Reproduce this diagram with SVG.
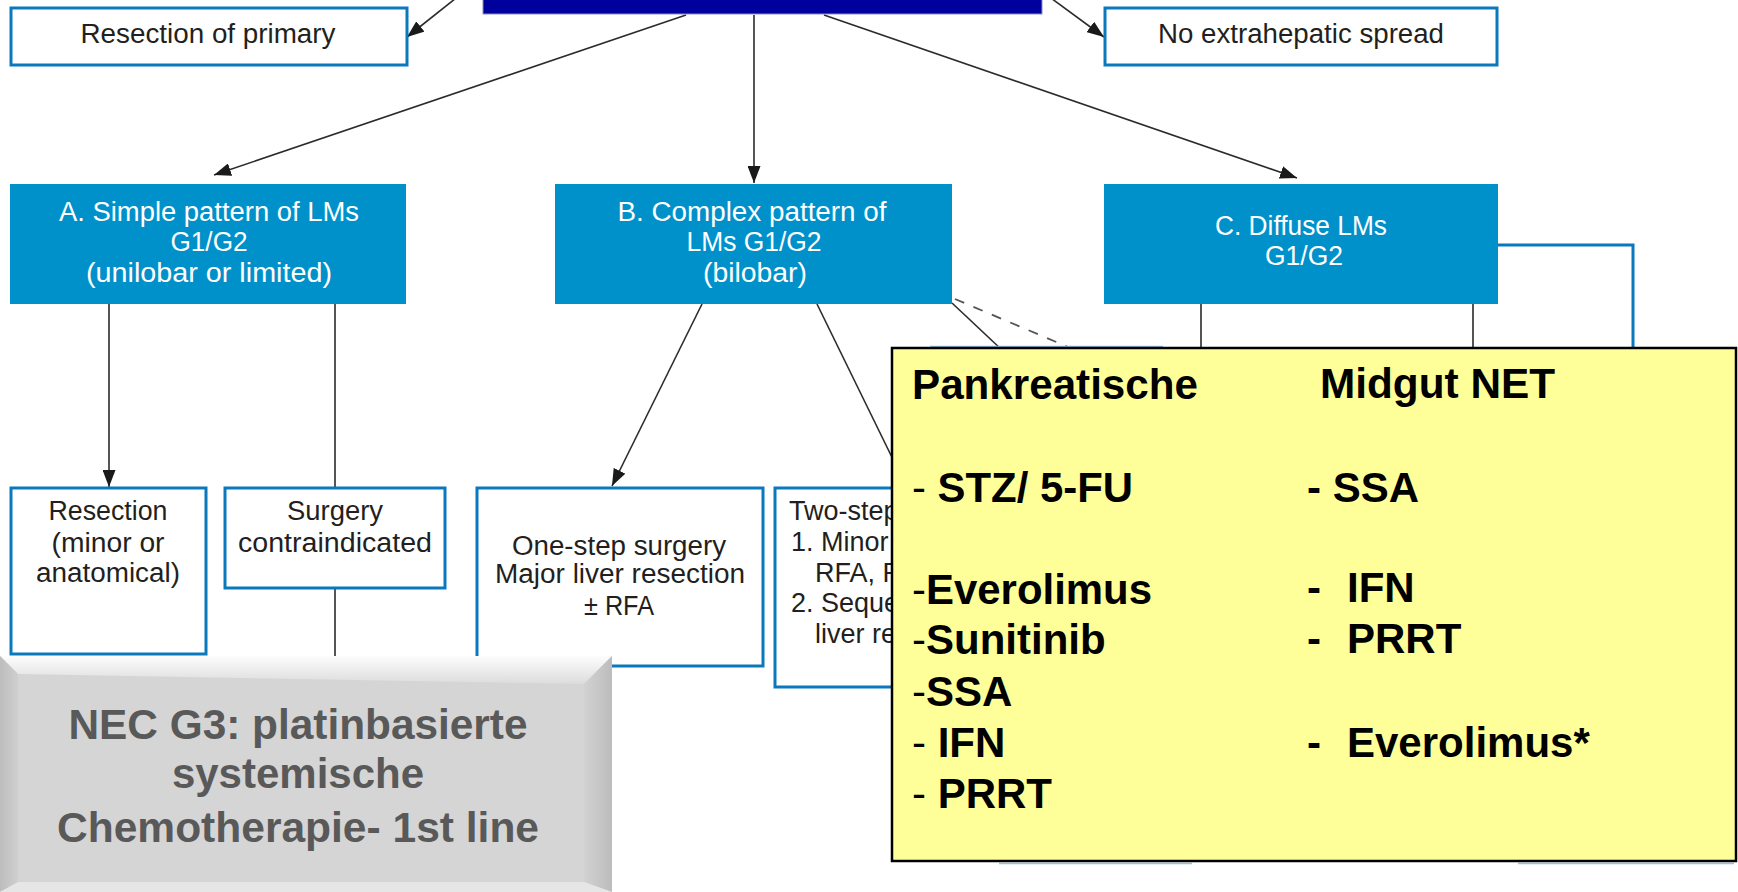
<svg xmlns="http://www.w3.org/2000/svg" width="1738" height="892" viewBox="0 0 1738 892">
<style>
.wbox{fill:#ffffff;stroke:#0a78bd;stroke-width:3}
.bbox{fill:#0091ca}
.t{font-family:"Liberation Sans",Arial,sans-serif;font-size:27px;fill:#231f20;text-anchor:middle}
.tl{font-family:"Liberation Sans",Arial,sans-serif;font-size:27px;fill:#231f20}
.tw{font-family:"Liberation Sans",Arial,sans-serif;font-size:27px;fill:#ffffff;text-anchor:middle}
.conn{stroke:#2b2b2b;stroke-width:1.6;fill:none}
.dash{stroke:#555;stroke-width:1.8;fill:none;stroke-dasharray:10 10}
.blue{stroke:#0a78bd;stroke-width:3;fill:none}
.y{font-family:"Liberation Sans",Arial,sans-serif;font-size:42px;font-weight:bold;fill:#000}
.n{font-weight:normal}
.g{font-family:"Liberation Sans",Arial,sans-serif;font-size:42px;font-weight:bold;fill:#595959;text-anchor:middle}
</style>
<defs>
<marker id="arr" markerUnits="userSpaceOnUse" markerWidth="17" markerHeight="13" viewBox="0 0 17 13" refX="17" refY="6.5" orient="auto">
<path d="M0,0 L17,6.5 L0,13 z" fill="#1a1a1a"/>
</marker>
<linearGradient id="gtop" x1="0" y1="0" x2="0" y2="1">
<stop offset="0" stop-color="#fdfdfd"/><stop offset="1" stop-color="#dcdcdc"/>
</linearGradient>
<linearGradient id="gleft" x1="0" y1="0" x2="1" y2="0">
<stop offset="0" stop-color="#bdbdbd"/><stop offset="1" stop-color="#cfcfcf"/>
</linearGradient>
<linearGradient id="gright" x1="0" y1="0" x2="1" y2="0">
<stop offset="0" stop-color="#d2d2d2"/><stop offset="1" stop-color="#bcbcbc"/>
</linearGradient>
</defs>
<rect width="1738" height="892" fill="#ffffff"/>

<g id="connectors">
<path class="conn" d="M475,-17 L407,37" marker-end="url(#arr)"/>
<path class="conn" d="M1040,-10 L1104,37" marker-end="url(#arr)"/>
<path class="conn" d="M686,15 L214,175" marker-end="url(#arr)"/>
<path class="conn" d="M754,15 L754,183" marker-end="url(#arr)"/>
<path class="conn" d="M824,15 L1297,178" marker-end="url(#arr)"/>
<path class="conn" d="M109,304 L109,487" marker-end="url(#arr)"/>
<path class="conn" d="M335,304 L335,488"/>
<path class="conn" d="M335,588 L335,660"/>
<path class="conn" d="M702,304 L612,486" marker-end="url(#arr)"/>
<path class="conn" d="M817,304 L906,486" marker-end="url(#arr)"/>
<path class="conn" d="M952,303 L1002,350"/>
<path class="dash" d="M955,299 L1068,347"/>
<path class="conn" d="M1201,304 L1201,350"/>
<path class="conn" d="M1473,304 L1473,350"/>
<path class="blue" d="M1498,245 L1633,245 L1633,350"/>
</g>

<g id="top">
<rect x="483" y="-12" width="559" height="26" fill="#00009c" stroke="#8c8cc8" stroke-width="1"/>
</g>

<g id="resection-primary">
<rect class="wbox" x="11" y="8" width="396" height="57"/>
<text class="t" x="208" y="43" textLength="255" lengthAdjust="spacingAndGlyphs">Resection of primary</text>
</g>

<g id="no-extrahepatic">
<rect class="wbox" x="1105" y="8" width="392" height="57"/>
<text class="t" x="1301" y="43" textLength="286" lengthAdjust="spacingAndGlyphs">No extrahepatic spread</text>
</g>

<g id="A">
<rect class="bbox" x="10" y="184" width="396" height="120"/>
<text class="tw" x="209" y="221" textLength="300" lengthAdjust="spacingAndGlyphs">A. Simple pattern of LMs</text>
<text class="tw" x="209" y="251" textLength="77" lengthAdjust="spacingAndGlyphs">G1/G2</text>
<text class="tw" x="209" y="282" textLength="246" lengthAdjust="spacingAndGlyphs">(unilobar or limited)</text>
</g>

<g id="B">
<rect class="bbox" x="555" y="184" width="397" height="120"/>
<text class="tw" x="752" y="221" textLength="269" lengthAdjust="spacingAndGlyphs">B. Complex pattern of</text>
<text class="tw" x="754" y="251" textLength="135" lengthAdjust="spacingAndGlyphs">LMs G1/G2</text>
<text class="tw" x="755" y="282" textLength="104" lengthAdjust="spacingAndGlyphs">(bilobar)</text>
</g>

<g id="C">
<rect class="bbox" x="1104" y="184" width="394" height="120"/>
<text class="tw" x="1301" y="235" textLength="172" lengthAdjust="spacingAndGlyphs">C. Diffuse LMs</text>
<text class="tw" x="1304" y="265" textLength="78" lengthAdjust="spacingAndGlyphs">G1/G2</text>
</g>

<g id="resection">
<rect class="wbox" x="11" y="488" width="195" height="166"/>
<text class="t" x="108" y="520" textLength="119" lengthAdjust="spacingAndGlyphs">Resection</text>
<text class="t" x="108" y="552" textLength="113" lengthAdjust="spacingAndGlyphs">(minor or</text>
<text class="t" x="108" y="582" textLength="144" lengthAdjust="spacingAndGlyphs">anatomical)</text>
</g>

<g id="surgery-contra">
<rect class="wbox" x="225" y="488" width="220" height="100"/>
<text class="t" x="335" y="520" textLength="96" lengthAdjust="spacingAndGlyphs">Surgery</text>
<text class="t" x="335" y="552" textLength="194" lengthAdjust="spacingAndGlyphs">contraindicated</text>
</g>

<g id="one-step">
<rect class="wbox" x="477" y="488" width="286" height="178"/>
<text class="t" x="619" y="555" textLength="214" lengthAdjust="spacingAndGlyphs">One-step surgery</text>
<text class="t" x="620" y="583" textLength="250" lengthAdjust="spacingAndGlyphs">Major liver resection</text>
<text class="t" x="619" y="615" textLength="70" lengthAdjust="spacingAndGlyphs">± RFA</text>
</g>

<g id="two-step">
<rect class="wbox" x="775" y="488" width="200" height="199"/>
<text class="tl" x="789" y="520">Two-step</text>
<text class="tl" x="791" y="551">1. Minor</text>
<text class="tl" x="815" y="582">RFA, R</text>
<text class="tl" x="791" y="612">2. Seque</text>
<text class="tl" x="815" y="643">liver re</text>
</g>

<g id="hidden-edges">
<line x1="930" y1="346.5" x2="1163" y2="346.5" stroke="#8fc3e3" stroke-width="1.5"/>
<line x1="999" y1="863.5" x2="1192" y2="863.5" stroke="#8fc3e3" stroke-width="1.5"/>
<line x1="1518" y1="863.5" x2="1734" y2="863.5" stroke="#8fc3e3" stroke-width="1.5"/>
</g>

<g id="therapy-box">
<rect x="892" y="348" width="844" height="513" fill="#ffff99" stroke="#000" stroke-width="2.5"/>
<text class="y" x="912" y="399" textLength="286" lengthAdjust="spacingAndGlyphs">Pankreatische</text>
<text class="y" x="912" y="502" textLength="221" lengthAdjust="spacingAndGlyphs"><tspan class="n">-</tspan> STZ/ 5-FU</text>
<text class="y" x="912" y="604" textLength="240" lengthAdjust="spacingAndGlyphs"><tspan class="n">-</tspan>Everolimus</text>
<text class="y" x="912" y="654"><tspan class="n">-</tspan>Sunitinib</text>
<text class="y" x="912" y="706"><tspan class="n">-</tspan>SSA</text>
<text class="y" x="912" y="757"><tspan class="n">-</tspan> IFN</text>
<text class="y" x="912" y="808"><tspan class="n">-</tspan> PRRT</text>
<text class="y" x="1320" y="398" textLength="235" lengthAdjust="spacingAndGlyphs">Midgut NET</text>
<text class="y" x="1307" y="502">- SSA</text>
<text class="y" x="1307" y="602">- <tspan x="1347">IFN</tspan></text>
<text class="y" x="1307" y="653">- <tspan x="1347">PRRT</tspan></text>
<text class="y" x="1307" y="757">- <tspan x="1347">Everolimus*</tspan></text>
</g>

<g id="nec-box">
<rect x="0" y="656" width="612" height="240" fill="#d5d5d5"/>
<polygon points="0,656 612,656 584,684 18,674" fill="url(#gtop)"/>
<polygon points="0,656 18,674 18,882 0,892" fill="url(#gleft)"/>
<polygon points="612,656 584,684 584,882 612,892" fill="url(#gright)"/>
<polygon points="0,892 18,882 584,882 612,892" fill="#e6e6e6"/>
<text class="g" x="298" y="739" textLength="459" lengthAdjust="spacingAndGlyphs">NEC G3: platinbasierte</text>
<text class="g" x="298" y="788">systemische</text>
<text class="g" x="298" y="842" textLength="482" lengthAdjust="spacingAndGlyphs">Chemotherapie- 1st line</text>
</g>
</svg>
